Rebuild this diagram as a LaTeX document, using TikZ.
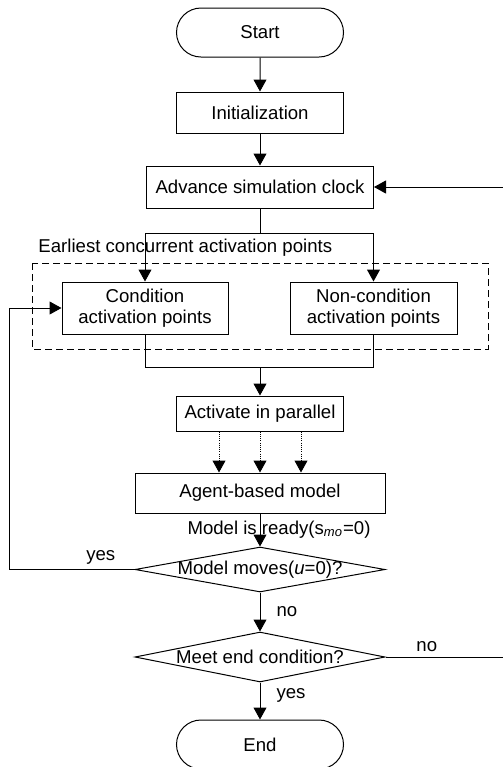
\documentclass[tikz,border=0pt]{standalone}
\usepackage{fontspec}
\setmainfont{Liberation Sans}
\usepackage{tikz}
\usetikzlibrary{arrows.meta,shapes.geometric,shapes.misc,calc}
\tikzset{
    flow-box/.style = {draw, rectangle, fill=white, inner sep=0pt, align=center, minimum width=83.5pt},
    flow-term/.style = {draw, rounded rectangle, inner sep=0pt, minimum width=83.5pt, minimum height=24.5pt},
    flow-decision/.style = {draw, diamond, aspect=5.5, inner xsep=-3.5pt, inner ysep=0pt, minimum width=125pt, minimum height=22.5pt},
    flow-arrow/.style = {-{Triangle[length=6pt,width=6.5pt]}},
    flow-label/.style = {inner sep=0pt},
}

\begin{document}
\begin{tikzpicture}[x=0.5pt, y=-0.5pt, line width=0.5pt, font=\fontsize{9.3}{10.7}\selectfont]
\useasboundingbox (0,0) rectangle (503,767);
\node[flow-term] (start) at (260,32.5) {Start};
\node[flow-box, minimum height=20.5pt] (init) at (260,112.5) {Initialization};
\node[flow-box, minimum width=113.5pt, minimum height=21pt] (clock) at (260,187) {Advance simulation clock};
\draw[dash pattern=on 3.5pt off 2pt] (32,263) rectangle (488,349);
\node[flow-label, anchor=base west] (group) at (38,252) {Earliest concurrent activation points};
\node[flow-box, minimum width=83pt, minimum height=26pt] (cond) at (145,308) {Condition\\activation points};
\node[flow-box, minimum height=26pt] (noncond) at (373.5,308) {Non-condition\\activation points};
\node[flow-box, minimum height=17.5pt] (act) at (260,413.5) {Activate in parallel};
\node[flow-box, minimum width=125pt, minimum height=20pt] (agent) at (260,493) {Agent-based model};
\node[flow-decision] (move) at (260,569.5) {Model moves(\textit{u}=0)?};
\node[flow-decision, minimum height=25pt] (endc) at (260,657) {Meet end condition?};
\node[flow-term] (end) at (260,744.5) {End};
\coordinate (merge) at (260,367);

\draw[flow-arrow] (start) -- (init);
\draw[flow-arrow] (init) -- (clock);
\draw[flow-arrow] (clock.south) -- ++(0,25) -| (cond.north);
\draw[flow-arrow] (clock.south) -- ++(0,25) -| (noncond.north);
\draw (cond.south) |- (merge);
\draw (noncond.south) |- (merge);
\draw[flow-arrow] (merge) -- (act);
\foreach \dx in {-41,0,41}
    \draw[flow-arrow, dash pattern=on 0.5pt off 0.6pt] ($(act.south)+(\dx,0)$) -- ($(agent.north)+(\dx,0)$);
\draw[flow-arrow] (agent) -- node[flow-label, xshift=9.5pt] (ready) {Model is ready(s\textsubscript{\itshape mo}=0)} (move);
\draw[flow-arrow] (move.west) -- node[flow-label, above=2.5pt, pos=0.27] (yes1) {yes} ++(-125,0) |- (cond.west);
\draw[flow-arrow] (move.south) -- node[flow-label, right=8pt] (no1) {no} (endc.north);
\draw[flow-arrow] (endc.south) -- node[flow-label, right=8pt, pos=0.35] (yes2) {yes} (end.north);
\draw[flow-arrow] (endc.east) -- node[flow-label, above=2.5pt, pos=0.33] (no2) {no} ++(125,0) |- (clock.east);
\end{tikzpicture}
\end{document}
